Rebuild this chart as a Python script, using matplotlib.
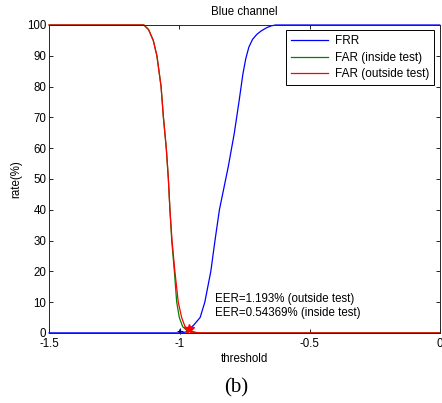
import matplotlib
matplotlib.use("Agg")
import matplotlib.pyplot as plt

plt.rcParams['font.family'] = ['Liberation Sans', 'DejaVu Sans']

# FRR curve (blue)
frr_x = [-1.5, -0.99, -0.975, -0.962, -0.945, -0.92, -0.902, -0.879, -0.863, -0.846,
         -0.812, -0.789, -0.771, -0.756, -0.745, -0.733, -0.719, -0.703, -0.687, -0.665,
         -0.648, -0.63, 0.0]
frr_y = [0, 0, 0.3, 1.19, 2.5, 5, 10, 20, 30, 40,
         54, 64.8, 75, 84, 89, 92.8, 95.3, 96.9, 98.0, 99.1,
         99.7, 100, 100]

# FAR inside test (green)
far_in_x = [-1.5, -1.136, -1.118, -1.10, -1.086, -1.070, -1.061, -1.050, -1.042, -1.036,
            -1.029, -1.019, -1.010, -1.0, -0.987, -0.972, -0.960, -0.945, -0.933, 0.0]
far_in_y = [100, 100, 98.5, 95, 90, 80, 70, 60, 50, 40,
            30, 20, 10, 5, 2, 0.9, 0.54, 0.15, 0, 0]

# FAR outside test (red)
far_out_x = [-1.5, -1.136, -1.118, -1.10, -1.086, -1.070, -1.061, -1.050, -1.042, -1.036,
             -1.028, -1.017, -1.004, -0.991, -0.978, -0.965, -0.953, -0.935, -0.92, 0.0]
far_out_y = [100, 100, 98.5, 95, 90, 80, 70, 60, 50, 40,
             30, 20, 10, 5, 2, 1.19, 0.5, 0.15, 0, 0]

# EER points
eer_out = (-0.964, 1.193)
eer_in = (-0.997, 0.54369)

x_ticks = [-1.5, -1, -0.5, 0]
x_tick_labels = ['-1.5', '-1', '-0.5', '0']
y_ticks = list(range(0, 101, 10))

fig = plt.figure(figsize=(4.42, 4.03), dpi=100)
ax = fig.add_axes([0.111, 0.174, 0.884, 0.764])

ax.plot(frr_x, frr_y, color='#0000ff', lw=0.9, label='FRR', clip_on=False)
ax.plot(far_in_x, far_in_y, color='#008000', lw=0.9, label='FAR (inside test)', clip_on=False)
ax.plot(far_out_x, far_out_y, color='#ff0000', lw=0.9, label='FAR (outside test)', clip_on=False)
ax.plot([eer_in[0]], [eer_in[1]], marker='+', color='#000080', ms=5, mew=0.8, clip_on=False)
ax.plot([eer_out[0]], [eer_out[1]], marker='*', color='#ff0000', ms=7, clip_on=False)

ax.text(-0.863, 11.0, 'EER=1.193% (outside test)', fontsize=8.3, va='center')
ax.text(-0.863, 6.5, 'EER=0.54369% (inside test)', fontsize=8.3, va='center')

ax.set_xlim(-1.5, 0)
ax.set_ylim(0, 100)
ax.set_xticks(x_ticks)
ax.set_xticklabels(x_tick_labels)
ax.set_yticks(y_ticks)
ax.tick_params(direction='in', length=3, width=0.6, top=True, right=True,
               labelsize=8.3, pad=2)
ax.tick_params(axis='x', pad=4)
for s in ax.spines.values():
    s.set_linewidth(0.7)
    s.set_color('#262626')

ax.set_title('Blue channel', fontsize=8.3, pad=7)
ax.set_xlabel('threshold', fontsize=8.3, labelpad=2)
ax.set_ylabel('rate(%)', fontsize=8.3, labelpad=3)

leg = ax.legend(loc='upper right', fontsize=8.5, fancybox=False, framealpha=1,
                edgecolor='black', borderaxespad=0.45, handlelength=3.2,
                borderpad=0.4, labelspacing=0.4, handletextpad=0.6)
leg.get_frame().set_linewidth(0.7)

fig.text(0.534, 0.037, '(b)', fontsize=15, family='Liberation Serif', ha='center', va='center')

fig.savefig('out.png', dpi=100)
